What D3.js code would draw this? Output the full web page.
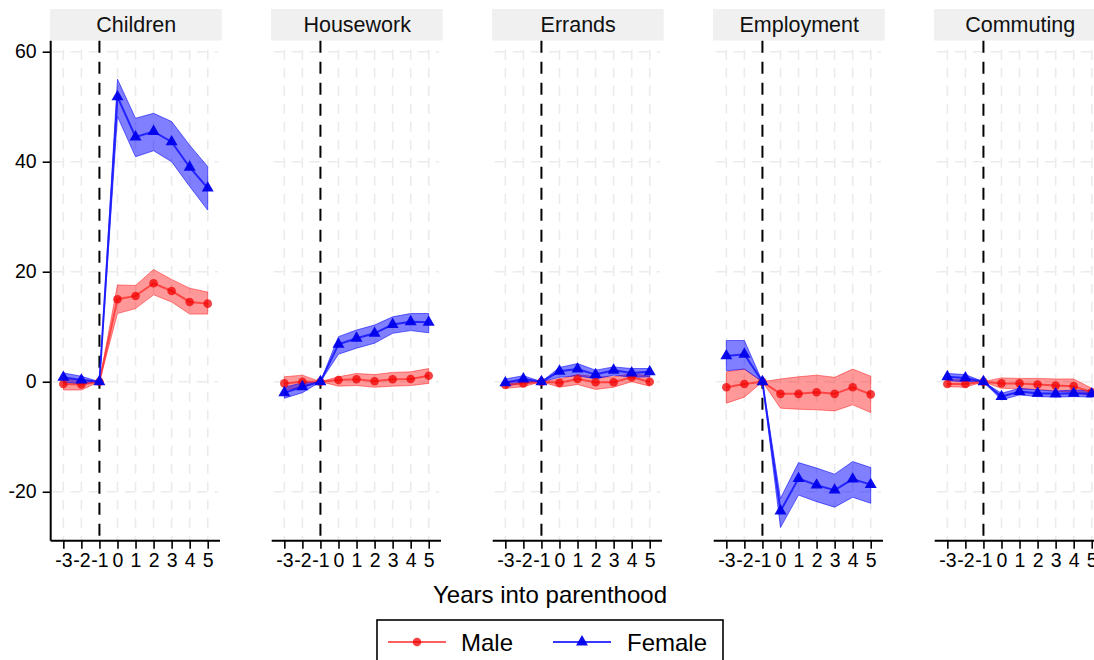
<!DOCTYPE html>
<html>
<head>
<meta charset="utf-8">
<script src="https://cdn.jsdelivr.net/npm/d3@7"></script>
<style>
  html, body { margin: 0; padding: 0; background: #fff; }
  svg { display: block; font-family: "Liberation Sans", Arial, sans-serif; }
</style>
</head>
<body>
<svg id="chart" width="1094" height="660"></svg>
<script>
// Event-study estimates by activity, years relative to first birth (-1 = reference year)
const years = [-3, -2, -1, 0, 1, 2, 3, 4, 5];
const panels = ["Children", "Housework", "Errands", "Employment", "Commuting"];
const yTicks = [-20, 0, 20, 40, 60];

const maleEst = [
  [-0.4, -0.5, 0, 15.0, 15.6, 17.9, 16.5, 14.5, 14.2],
  [-0.3, 0.0, 0, 0.3, 0.45, 0.1, 0.45, 0.5, 1.1],
  [-0.6, -0.3, 0, -0.2, 0.5, -0.1, -0.1, 0.8, 0.0],
  [-1.0, -0.4, 0, -2.2, -2.2, -1.9, -2.2, -1.0, -2.3],
  [-0.4, -0.4, 0, -0.3, -0.3, -0.5, -0.7, -0.8, -1.9]
];
const maleLo = [
  [-1.5, -1.5, 0, 12.4, 13.3, 15.8, 14.5, 12.3, 12.3],
  [-1.5, -1.0, 0, -0.8, -0.7, -1.0, -0.8, -0.7, -0.3],
  [-1.2, -0.9, 0, -1.0, -0.5, -1.4, -1.0, 0.0, -0.8],
  [-3.9, -2.8, 0, -4.8, -5.0, -5.1, -5.3, -4.2, -5.6],
  [-0.9, -1.0, 0, -1.2, -1.3, -1.4, -1.7, -1.9, -2.6]
];
const maleHi = [
  [0.5, 0.4, 0, 17.6, 17.5, 20.4, 18.6, 17.0, 16.3],
  [0.9, 1.2, 0, 0.9, 1.5, 1.3, 1.7, 1.8, 2.4],
  [0.1, 0.1, 0, 0.5, 1.3, 0.9, 0.9, 1.5, 1.0],
  [1.8, 2.3, 0, 0.5, 0.9, 1.2, 0.8, 2.3, 1.0],
  [0.3, 0.4, 0, 0.7, 0.6, 0.6, 0.5, 0.5, -1.2]
];
const femaleEst = [
  [0.8, 0.3, 0, 51.8, 44.5, 45.5, 43.6, 39.0, 35.2],
  [-2.0, -0.9, 0, 6.8, 7.9, 8.8, 10.4, 10.9, 10.8],
  [-0.2, 0.5, 0, 1.9, 2.3, 1.3, 2.1, 1.6, 1.8],
  [4.7, 5.0, 0, -23.5, -17.6, -18.8, -19.7, -17.7, -18.7],
  [0.9, 0.7, 0, -2.7, -1.8, -2.1, -2.2, -2.1, -2.2]
];
const femaleLo = [
  [-0.1, -0.4, 0, 48.2, 40.9, 42.0, 40.0, 35.5, 31.2],
  [-3.0, -2.0, 0, 5.0, 6.1, 7.0, 8.8, 9.3, 8.9],
  [-0.8, -0.2, 0, 0.8, 1.1, 0.5, 1.2, 0.8, 0.9],
  [2.0, 2.3, 0, -26.5, -20.6, -21.8, -22.8, -21.0, -22.1],
  [0.2, 0.0, 0, -3.3, -2.4, -2.7, -2.8, -2.7, -2.8]
];
const femaleHi = [
  [1.6, 1.0, 0, 55.0, 47.9, 48.8, 47.3, 43.0, 39.1],
  [-1.0, -0.2, 0, 8.2, 9.4, 10.3, 11.8, 12.4, 12.4],
  [0.5, 1.1, 0, 2.6, 3.3, 2.1, 2.7, 2.4, 2.4],
  [7.5, 7.5, 0, -21.2, -14.7, -15.7, -16.8, -14.5, -15.6],
  [1.5, 1.3, 0, -2.1, -1.2, -1.5, -1.7, -1.5, -1.6]
];

const svg = d3.select("#chart");

const plotTop = 40.7, plotBottom = 540.7;
const panelLeft0 = 50.7, panelStep = 221, panelWidth = 169.3;

const y = d3.scaleLinear().domain([-28.9, 62]).range([plotBottom, plotTop]);

// plain hyphen-minus labels
const fmt = d => String(d);
const tickFont = 19.5;

const maleCol = { band: "rgba(255,0,0,0.40)", edge: "rgba(255,0,0,0.45)", line: "rgba(255,40,40,0.75)", mark: "rgba(240,0,0,0.75)" };
const femCol  = { band: "rgba(0,0,255,0.50)", edge: "rgba(0,0,255,0.55)", line: "rgba(20,20,255,0.85)", mark: "rgba(0,0,235,0.95)" };

const triangle = d3.symbol().type(d3.symbolTriangle).size(62);

panels.forEach((name, p) => {
  const left = panelLeft0 + p * panelStep;
  const x = d3.scaleLinear().domain([-3.7, 5.68]).range([left, left + panelWidth]);
  const g = svg.append("g");

  // strip header
  g.append("rect")
    .attr("x", left - 0.7).attr("y", 9)
    .attr("width", 171.7).attr("height", 31.5)
    .attr("fill", "#f0f0f0");
  g.append("text")
    .attr("x", left + 171 / 2).attr("y", 32)
    .attr("text-anchor", "middle")
    .attr("font-size", 21.5).attr("fill", "#111")
    .text(name);

  // gridlines
  g.append("g").selectAll("line").data(yTicks).join("line")
    .attr("x1", x(-3.7) + 2).attr("x2", x(5.68) - 2)
    .attr("y1", d => y(d)).attr("y2", d => y(d))
    .attr("stroke", "#ebebeb").attr("stroke-width", 1.6)
    .attr("stroke-dasharray", "10,8");
  g.append("g").selectAll("line").data(years.filter(v => v !== -1)).join("line")
    .attr("x1", d => x(d)).attr("x2", d => x(d))
    .attr("y1", plotTop + 9).attr("y2", plotBottom)
    .attr("stroke", "#ebebeb").attr("stroke-width", 1.6)
    .attr("stroke-dasharray", "10,8");

  // x axis
  const xAxis = d3.axisBottom(x).tickValues(years).tickSize(8).tickPadding(4).tickFormat(fmt);
  const ax = g.append("g").attr("transform", `translate(0,${plotBottom})`).call(xAxis);
  ax.select(".domain").attr("stroke", "#000").attr("stroke-width", 2)
    .attr("d", `M${x(-3.7)},0H${x(5.68)}`);
  ax.selectAll(".tick line").attr("stroke", "#000").attr("stroke-width", 1.6);
  ax.selectAll(".tick text")
    .attr("font-size", tickFont).attr("fill", "#000")
    .attr("font-family", "'Liberation Sans', Arial, sans-serif");

  // reference year
  g.append("line")
    .attr("x1", x(-1)).attr("x2", x(-1))
    .attr("y1", plotTop).attr("y2", plotBottom)
    .attr("stroke", "#000").attr("stroke-width", 2)
    .attr("stroke-dasharray", "12,9");

  // y axis on the first panel only
  if (p === 0) {
    const yAxis = d3.axisLeft(y).tickValues(yTicks).tickSize(8).tickPadding(6).tickFormat(fmt);
    const ay = g.append("g").attr("transform", `translate(${left},0)`).call(yAxis);
    ay.select(".domain").attr("stroke", "#000").attr("stroke-width", 2)
      .attr("d", `M0,${plotTop}V${plotBottom}`);
    ay.selectAll(".tick line").attr("stroke", "#000").attr("stroke-width", 1.6);
    ay.selectAll(".tick text")
      .attr("font-size", tickFont).attr("fill", "#000")
      .attr("font-family", "'Liberation Sans', Arial, sans-serif");
  }

  const drawBand = (lo, hi, col) => {
    const area = d3.area().x((d, i) => x(years[i])).y0((d, i) => y(lo[i])).y1((d, i) => y(hi[i]));
    g.append("path").datum(years).attr("d", area)
      .attr("fill", col.band).attr("stroke", col.edge).attr("stroke-width", 1);
  };
  const drawLine = (est, col) => {
    const line = d3.line().x((d, i) => x(years[i])).y((d, i) => y(est[i]));
    g.append("path").datum(years).attr("d", line)
      .attr("fill", "none").attr("stroke", col.line).attr("stroke-width", 2);
  };

  drawBand(maleLo[p], maleHi[p], maleCol);
  drawBand(femaleLo[p], femaleHi[p], femCol);
  drawLine(maleEst[p], maleCol);
  g.append("g").selectAll("circle").data(maleEst[p]).join("circle")
    .attr("cx", (d, i) => x(years[i])).attr("cy", d => y(d)).attr("r", 4.3)
    .attr("fill", maleCol.mark);
  drawLine(femaleEst[p], femCol);
  g.append("g").selectAll("path").data(femaleEst[p]).join("path")
    .attr("d", triangle)
    .attr("transform", (d, i) => `translate(${x(years[i])},${y(d)})`)
    .attr("fill", femCol.mark);
});

// shared axis title
svg.append("text")
  .attr("x", 550).attr("y", 603)
  .attr("text-anchor", "middle").attr("font-size", 24).attr("fill", "#000")
  .text("Years into parenthood");

// legend
const lg = svg.append("g");
lg.append("rect").attr("x", 377).attr("y", 620).attr("width", 346).attr("height", 60)
  .attr("fill", "#fff").attr("stroke", "#000").attr("stroke-width", 1.6);
const ly = 642;
lg.append("line").attr("x1", 388).attr("x2", 446).attr("y1", ly).attr("y2", ly)
  .attr("stroke", maleCol.line).attr("stroke-width", 2);
lg.append("circle").attr("cx", 417).attr("cy", ly).attr("r", 4.3).attr("fill", maleCol.mark);
lg.append("text").attr("x", 461).attr("y", ly + 9).attr("font-size", 24).attr("fill", "#000").text("Male");
lg.append("line").attr("x1", 553).attr("x2", 611).attr("y1", ly).attr("y2", ly)
  .attr("stroke", femCol.line).attr("stroke-width", 2);
lg.append("path").attr("d", triangle).attr("transform", `translate(582,${ly})`).attr("fill", femCol.mark);
lg.append("text").attr("x", 627).attr("y", ly + 9).attr("font-size", 24).attr("fill", "#000").text("Female");
</script>
</body>
</html>
